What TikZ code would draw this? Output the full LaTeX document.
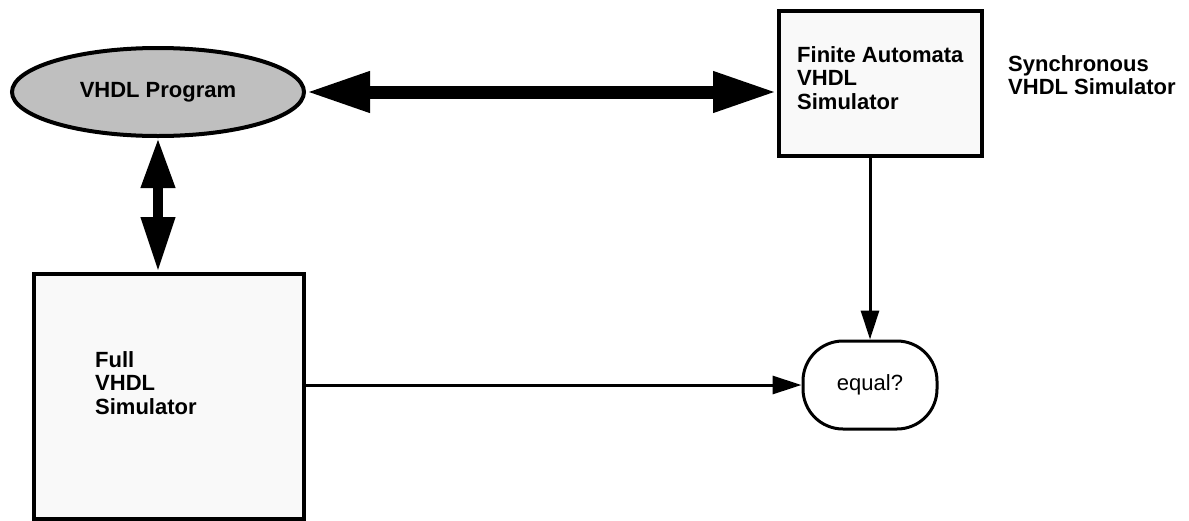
\documentclass[tikz,border=0pt]{standalone}
\usepackage{fontspec}
\setmainfont{Liberation Sans}
\usetikzlibrary{arrows.meta,shapes.geometric,calc}
\begin{document}
\begin{tikzpicture}[x=1pt,y=-1pt,
  lbl/.style={font=\fontsize{22}{23.5}\selectfont\bfseries, align=left, inner sep=0pt},
  simbox/.style={draw=black, line width=4pt, fill=gray!5},
  bigarrow/.style={line width=13pt, {Triangle[length=64pt,width=38pt]}-{Triangle[length=64pt,width=38pt]}},
  vertarrow/.style={line width=10pt, {Triangle[length=50pt,width=32pt]}-{Triangle[length=55pt,width=32pt]}},
  thinarrow/.style={line width=3pt, -{Triangle[length=29pt,width=18pt]}}]
\useasboundingbox (0,0) rectangle (1189,520);

% source program
\node[ellipse, draw=black, line width=4pt, fill=gray!50, minimum width=292pt,
      minimum height=88pt, inner sep=0pt, lbl] (prog) at (158,92) {VHDL Program};

% finite automata simulator
\node[simbox, minimum width=203pt, minimum height=145pt, anchor=north west,
      inner sep=0pt] (fa) at (777,9) {};
\node[lbl, anchor=north west] (fatext) at (797,46) {Finite Automata\\VHDL\\Simulator};
\node[lbl, anchor=north west] (sync) at (1008,55) {Synchronous\\VHDL Simulator};

% full simulator
\node[simbox, minimum width=270pt, minimum height=245pt, anchor=north west,
      inner sep=0pt] (full) at (32,272) {};
\node[lbl, anchor=north west] (fulltext) at (95,351) {Full\\VHDL\\Simulator};

% comparison
\node[draw=black, line width=3pt, rounded corners=40pt, minimum width=134pt,
      minimum height=88pt, inner sep=0pt, font=\fontsize{22}{24}\selectfont] (eq)
      at (870,385) {equal?};

% connectors
\draw[bigarrow] (prog.east) -- (prog.east -| fa.west);
\draw[vertarrow] (prog.south) -- (prog.south |- full.north);
\draw[thinarrow] (fa.south -| eq.north) -- (eq.north);
\draw[thinarrow] (full.east |- eq.west) -- (eq.west);
\end{tikzpicture}
\end{document}
